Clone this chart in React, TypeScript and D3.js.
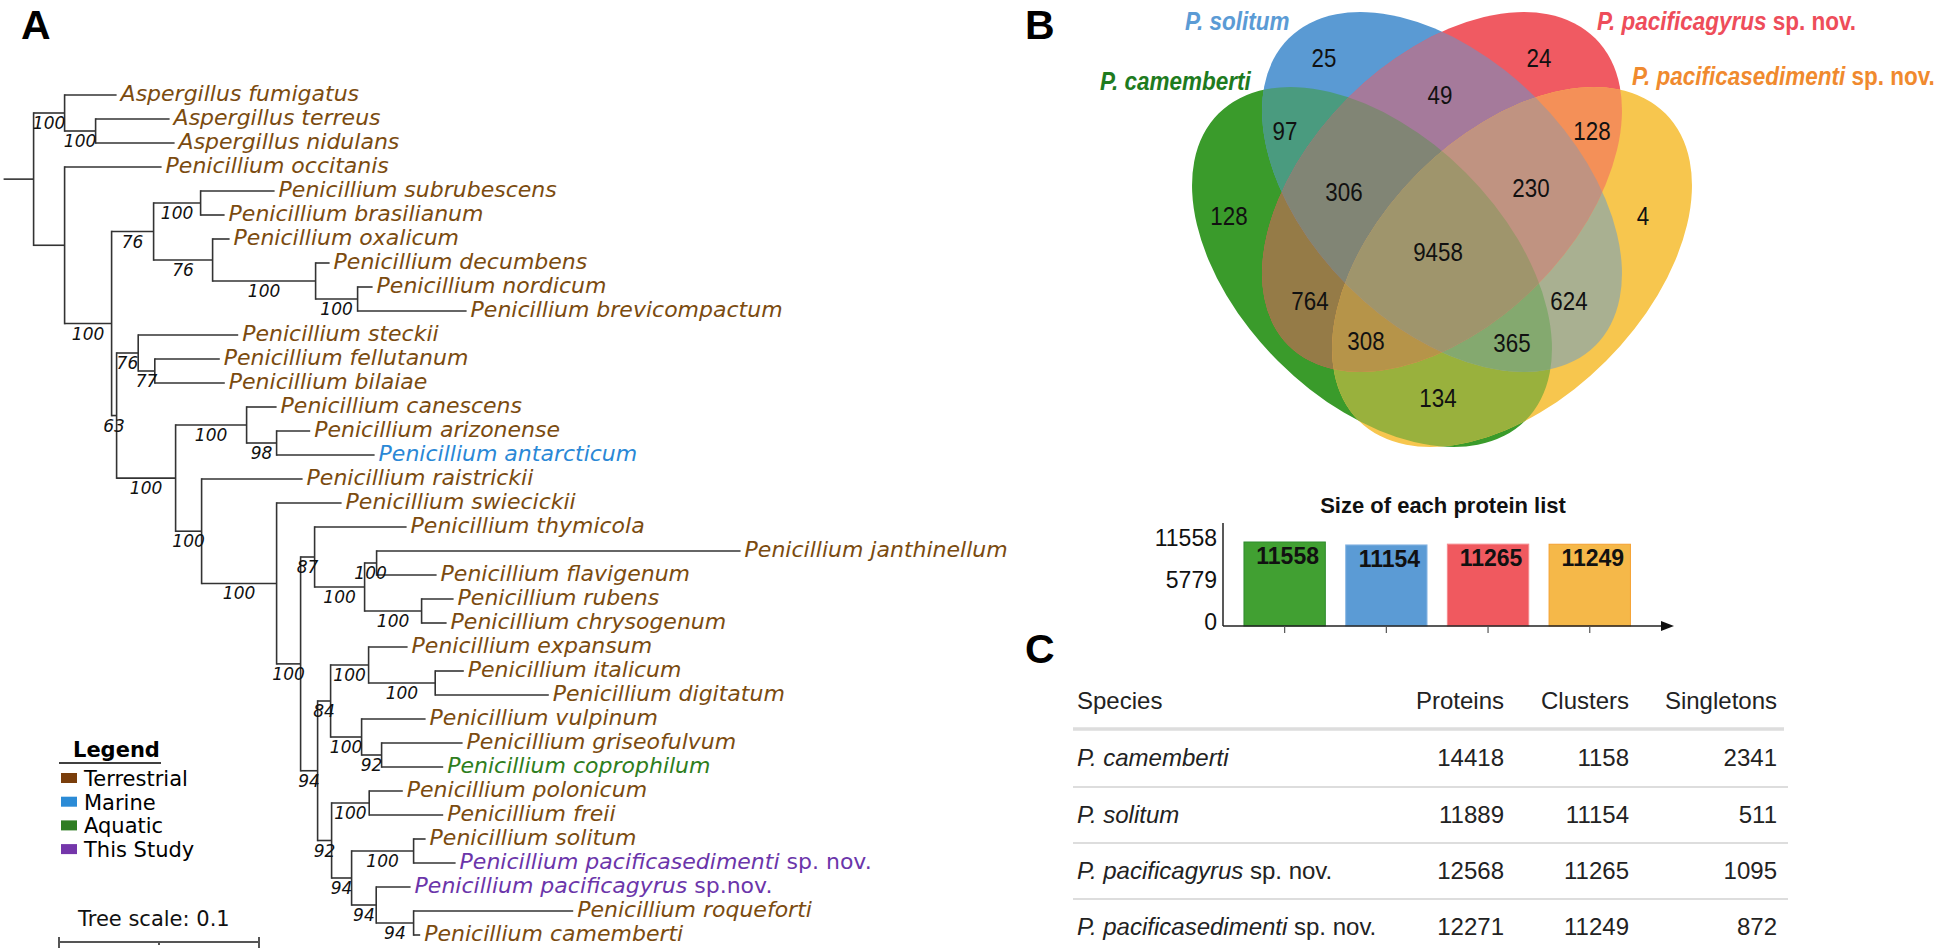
import React from "react";
import * as d3 from "d3";

// ---------------- DATA ----------------
// Phylogeny (Newick, branch lengths in tree units, bootstrap as internal node names)
const TREE_NEWICK =
  "(" +
  "(Aspergillus_fumigatus:0.026,(Aspergillus_terreus:0.037,Aspergillus_nidulans:0.0395)100:0.0155)100:0.0155," +
  "(Penicillium_occitanis:0.0485," +
  "(" +
  "((Penicillium_subrubescens:0.037,Penicillium_brasilianum:0.012)100:0.0235," +
  "(Penicillium_oxalicum:0.0085,(Penicillium_decumbens:0.007,(Penicillium_nordicum:0.0075,Penicillium_brevicompactum:0.0545)100:0.021)100:0.0515)76:0.0295)76:0.021," +
  "(" +
  "(Penicillium_steckii:0.05,(Penicillium_fellutanum:0.0325,Penicillium_bilaiae:0.035)77:0.0083)76:0.0108," +
  "(" +
  "(Penicillium_canescens:0.015,(Penicillium_arizonense:0.0168,Penicillium_antarcticum:0.049)98:0.015)100:0.0355," +
  "(Penicillium_raistrickii:0.0505," +
  "(Penicillium_swiecickii:0.0325," +
  "(" +
  "(Penicillium_thymicola:0.046,((Penicillium_janthinellum:0.182,Penicillium_flavigenum:0.03)100:0.006,(Penicillium_rubens:0.016,Penicillium_chrysogenum:0.0125)100:0.0285)100:0.025)87:0.007," +
  "(" +
  "((Penicillium_expansum:0.0195,(Penicillium_italicum:0.0143,Penicillium_digitatum:0.0568)100:0.0333)100:0.019," +
  "(Penicillium_vulpinum:0.032,(Penicillium_griseofulvum:0.0405,Penicillium_coprophilum:0.0308)92:0.01)100:0.0155)84:0.0065," +
  "((Penicillium_polonicum:0.0168,Penicillium_freii:0.037)100:0.0188," +
  "((Penicillium_solitum:0.006,Penicillium_pacificasedimenti_sp._nov.:0.021)100:0.031," +
  "(Penicillium_pacificagyrus_sp.nov.:0.0172,(Penicillium_roqueforti:0.0798,Penicillium_camemberti:0.0033)94:0.0187)94:0.0123)94:0.01)92:0.007" +
  ")94:0.0085" +
  ")100:0.012" +
  ")100:0.0375" +
  ")100:0.013" +
  ")100:0.0295" +
  ")63:0.0025" +
  ")100:0.0235" +
  "):0.0155" +
  "):0.015;";

const marineLeaves = ["Penicillium antarcticum"];
const aquaticLeaves = ["Penicillium coprophilum"];
const studyLeaves = ["Penicillium pacificasedimenti sp. nov.", "Penicillium pacificagyrus sp.nov."];

const legendLabels = ["Terrestrial", "Marine", "Aquatic", "This Study"];
const treeScaleValue = 0.1;

// Venn
const vennSetNames = ["P. camemberti", "P. solitum", "P. pacificagyrus", "P. pacificasedimenti"];
const vennRegionKeys = ["A", "B", "C", "D", "AB", "BC", "CD", "AD", "AC", "BD", "ABC", "BCD", "ACD", "ABD", "ABCD"];
const vennRegionCounts = [128, 25, 24, 4, 97, 49, 128, 134, 764, 624, 306, 230, 308, 365, 9458];

// Bar chart
const barNames = ["P. camemberti", "P. solitum", "P. pacificagyrus", "P. pacificasedimenti"];
const barValues = [11558, 11154, 11265, 11249];
const barTicks = [0, 5779, 11558];

// Table
const tableHeaders = ["Species", "Proteins", "Clusters", "Singletons"];
const tableSpecies = ["P. camemberti", "P. solitum", "P. pacificagyrus", "P. pacificasedimenti"];
const tableSpeciesSuffix = ["", "", " sp. nov.", " sp. nov."];
const tableProteins = [14418, 11889, 12568, 12271];
const tableClusters = [1158, 11154, 11265, 11249];
const tableSingletons = [2341, 511, 1095, 872];

// ---------------- STYLES / LAYOUT ----------------
const COL = {
  terrestrial: "#7B4B0F",
  marine: "#2A88D6",
  aquatic: "#2E7E1C",
  study: "#6B35AA",
};
const legendColors = ["#7A3E0B", "#2B8BD6", "#2F7D22", "#7436AA"];
const vennColors = ["#3A9B2B", "#5A9AD3", "#F05A62", "#F7C64E"];
const vennLabelColors = ["#1E7B1E", "#5B9BD5", "#EE4D5A", "#F08A2E"];
const barColors = ["#41A032", "#5B9BD5", "#F0595F", "#F5B849"];
const barStroke = ["#2E8B2E", "#8BB8E3", "#F58A8E", "#F5A030"];

const vennShapes = [
  { cx: 1372, cy: 267, rot: 45 },
  { cx: 1442, cy: 192, rot: 45 },
  { cx: 1442, cy: 192, rot: -45 },
  { cx: 1512, cy: 267, rot: -45 },
];
const VRX = 217;
const VRY = 133;
const vennLabelPos: Record<string, [number, number]> = {
  A: [1229, 216], B: [1324, 58], C: [1539, 58], D: [1643, 216],
  AB: [1285, 131], BC: [1440, 95], CD: [1592, 131], AD: [1438, 398],
  AC: [1310, 301], BD: [1569, 301], ABC: [1344, 192], BCD: [1531, 188],
  ACD: [1366, 341], ABD: [1512, 343], ABCD: [1438, 252],
};

type TNode = { name: string; length: number; children: TNode[] };
function parseNewick(s: string): TNode {
  let i = 0;
  function parseNode(): TNode {
    const node: TNode = { name: "", length: 0, children: [] };
    if (s[i] === "(") {
      i++;
      node.children.push(parseNode());
      while (s[i] === ",") {
        i++;
        node.children.push(parseNode());
      }
      i++;
    }
    let name = "";
    while (i < s.length && !",():;".includes(s[i])) name += s[i++];
    node.name = name.replace(/_/g, " ");
    if (s[i] === ":") {
      i++;
      let num = "";
      while (i < s.length && !",();".includes(s[i])) num += s[i++];
      node.length = parseFloat(num);
    }
    return node;
  }
  return parseNode();
}

const TREE_FONT = "'DejaVu Sans', Verdana, sans-serif";
const SANS = "'Liberation Sans', Arial, Helvetica, sans-serif";

function leafColor(name: string) {
  if (marineLeaves.includes(name)) return COL.marine;
  if (aquaticLeaves.includes(name)) return COL.aquatic;
  if (studyLeaves.includes(name)) return COL.study;
  return COL.terrestrial;
}

function LeafLabel({ name, x, y }: { name: string; x: number; y: number }) {
  const m = name.match(/^(.*?)( sp\. ?nov\.)$/);
  const fill = leafColor(name);
  return (
    <text x={x} y={y} fontFamily={TREE_FONT} fontSize={22} fill={fill}>
      {m ? (
        <>
          <tspan fontStyle="italic">{m[1]}</tspan>
          <tspan fontStyle="normal">{m[2]}</tspan>
        </>
      ) : (
        <tspan fontStyle="italic">{name}</tspan>
      )}
    </text>
  );
}

function Tree() {
  const root = d3.hierarchy(parseNewick(TREE_NEWICK), (d: TNode) => (d.children.length ? d.children : null));
  const x0 = 3.6;
  const xScale = d3.scaleLinear().domain([0, treeScaleValue]).range([x0, x0 + 200]);
  const leaves = root.leaves();
  const yScale = d3.scaleLinear().domain([0, leaves.length - 1]).range([95, 935]);
  const pos = new Map<any, { x: number; y: number; cum: number }>();
  root.eachBefore((n: any) => {
    const cum = (n.parent ? pos.get(n.parent)!.cum : 0) + n.data.length;
    pos.set(n, { x: xScale(cum), y: 0, cum });
  });
  leaves.forEach((l: any, i: number) => (pos.get(l)!.y = yScale(i)));
  root.eachAfter((n: any) => {
    if (n.children) {
      const c = n.children;
      pos.get(n)!.y = (pos.get(c[0])!.y + pos.get(c[c.length - 1])!.y) / 2;
    }
  });
  const nodes = root.descendants();
  const lineColor = "#333";
  return (
    <g>
      {nodes.map((n: any, i: number) => {
        const p = pos.get(n)!;
        const px = n.parent ? pos.get(n.parent)!.x : xScale(0);
        return <line key={"h" + i} x1={px} x2={p.x} y1={p.y} y2={p.y} stroke={lineColor} strokeWidth={1.6} />;
      })}
      {nodes
        .filter((n: any) => n.children)
        .map((n: any, i: number) => {
          const p = pos.get(n)!;
          const c = n.children;
          return (
            <line
              key={"v" + i}
              x1={p.x}
              x2={p.x}
              y1={pos.get(c[0])!.y - 0.8}
              y2={pos.get(c[c.length - 1])!.y + 0.8}
              stroke={lineColor}
              strokeWidth={1.6}
            />
          );
        })}
      {nodes
        .filter((n: any) => n.children && n.parent && /^\d+$/.test(n.data.name))
        .map((n: any, i: number) => {
          const p = pos.get(n)!;
          const px = pos.get(n.parent)!.x;
          return (
            <text
              key={"b" + i}
              x={(px + p.x) / 2}
              y={p.y + 16}
              textAnchor="middle"
              fontFamily={TREE_FONT}
              fontStyle="italic"
              fontSize={17}
              fill="#111"
            >
              {n.data.name}
            </text>
          );
        })}
      {leaves.map((l: any, i: number) => {
        const p = pos.get(l)!;
        return <LeafLabel key={"l" + i} name={l.data.name} x={p.x + 4} y={p.y + 6} />;
      })}
      {/* Legend */}
      <text x={73} y={757} fontFamily={TREE_FONT} fontWeight="bold" fontSize={21} fill="#000">
        Legend
      </text>
      <line x1={59} x2={161} y1={763} y2={763} stroke="#000" strokeWidth={1.6} />
      {legendLabels.map((lab, i) => {
        const y = 778 + i * 23.7;
        return (
          <g key={lab}>
            <rect x={61} y={y - 5} width={16} height={10} fill={legendColors[i]} />
            <text x={84} y={y + 8} fontFamily={TREE_FONT} fontSize={21} fill="#000">
              {lab}
            </text>
          </g>
        );
      })}
      {/* Tree scale */}
      <text x={78} y={926} fontFamily={TREE_FONT} fontSize={21} fill="#111">
        Tree scale: {treeScaleValue}
      </text>
      {(() => {
        const len = xScale(treeScaleValue) - xScale(0);
        const bx = 59;
        return (
          <g stroke="#555" strokeWidth={2}>
            <line x1={bx} x2={bx + len} y1={942} y2={942} />
            <line x1={bx} x2={bx} y1={937} y2={948} />
            <line x1={bx + len} x2={bx + len} y1={937} y2={948} />
            <line x1={bx + len / 2} x2={bx + len / 2} y1={942} y2={945} />
          </g>
        );
      })()}
    </g>
  );
}

function ellipseEl(i: number, fill?: string) {
  const s = vennShapes[i];
  return (
    <ellipse
      cx={s.cx}
      cy={s.cy}
      rx={VRX}
      ry={VRY}
      transform={`rotate(${s.rot} ${s.cx} ${s.cy})`}
      fill={fill || "#000"}
    />
  );
}

function Venn() {
  const subsets: number[][] = [];
  for (let m = 1; m < 16; m++) {
    const s: number[] = [];
    for (let k = 0; k < 4; k++) if (m & (1 << k)) s.push(k);
    subsets.push(s);
  }
  subsets.sort((a, b) => a.length - b.length);
  const avg = (s: number[]) => {
    const cs = s.map((k) => d3.rgb(vennColors[k]));
    const r = d3.mean(cs, (c) => c.r)!;
    const g = d3.mean(cs, (c) => c.g)!;
    const b = d3.mean(cs, (c) => c.b)!;
    return d3.rgb(r, g, b).formatHex();
  };
  const renderSubset = (s: number[], key: number) => {
    let el: any = ellipseEl(s[0], avg(s));
    for (let j = 1; j < s.length; j++) {
      el = <g clipPath={`url(#vclip${s[j]})`}>{el}</g>;
    }
    return <g key={key}>{el}</g>;
  };
  return (
    <g>
      <defs>
        {[0, 1, 2, 3].map((i) => (
          <clipPath key={i} id={`vclip${i}`}>
            {ellipseEl(i)}
          </clipPath>
        ))}
      </defs>
      {subsets.map((s, i) => renderSubset(s, i))}
      {vennRegionKeys.map((k, i) => {
        const [x, y] = vennLabelPos[k];
        return (
          <text
            key={k}
            transform={`translate(${x},${y + 9}) scale(0.86,1)`}
            textAnchor="middle"
            fontFamily={SANS}
            fontSize={26}
            fill="#111"
          >
            {vennRegionCounts[i]}
          </text>
        );
      })}
      {/* set labels */}
      {[
        { x: 1100, y: 90, i: 0 },
        { x: 1185, y: 30, i: 1 },
        { x: 1597, y: 30, i: 2 },
        { x: 1632, y: 85, i: 3 },
      ].map(({ x, y, i }) => (
        <text
          key={i}
          transform={`translate(${x},${y}) scale(0.9,1)`}
          fontFamily={SANS}
          fontWeight="bold"
          fontSize={25}
          fill={vennLabelColors[i]}
        >
          <tspan fontStyle="italic">{vennSetNames[i]}</tspan>
          {i >= 2 ? <tspan fontStyle="normal"> sp. nov.</tspan> : null}
        </text>
      ))}
    </g>
  );
}

function Bars() {
  const x = d3.scaleBand().domain(barNames).range([1233.8, 1640.6]).paddingInner(0.2).paddingOuter(0.1);
  const y = d3.scaleLinear().domain([0, barTicks[barTicks.length - 1]]).range([626, 542]);
  const axisX = 1223;
  return (
    <g>
      <text x={1443} y={513} textAnchor="middle" fontFamily={SANS} fontWeight="bold" fontSize={22} fill="#111">
        Size of each protein list
      </text>
      {barNames.map((n, i) => (
        <rect
          key={n}
          x={x(n)!}
          y={y(barValues[i])}
          width={x.bandwidth()}
          height={y(0) - y(barValues[i])}
          fill={barColors[i]}
          stroke={barStroke[i]}
          strokeWidth={1}
        />
      ))}
      {barNames.map((n, i) => (
        <text
          key={"v" + n}
          x={x(n)! + x.bandwidth() / 2 + 3}
          y={y(barValues[i]) + 22}
          textAnchor="middle"
          fontFamily={SANS}
          fontWeight="bold"
          fontSize={23}
          fill="#111"
        >
          {barValues[i]}
        </text>
      ))}
      <line x1={axisX} x2={axisX} y1={523} y2={626} stroke="#222" strokeWidth={1.5} />
      <line x1={axisX} x2={1664} y1={626} y2={626} stroke="#222" strokeWidth={1.5} />
      <path d="M1661,621 L1674,626 L1661,631 Z" fill="#111" />
      {barNames.map((n) => (
        <line
          key={"t" + n}
          x1={x(n)! + x.bandwidth() / 2}
          x2={x(n)! + x.bandwidth() / 2}
          y1={626}
          y2={633}
          stroke="#555"
          strokeWidth={1.2}
        />
      ))}
      {barTicks.map((t) => (
        <text key={t} x={1217} y={y(t) + 4} textAnchor="end" fontFamily={SANS} fontSize={23} fill="#111">
          {t}
        </text>
      ))}
    </g>
  );
}

function Table() {
  const rightX = [0, 1504, 1629, 1777];
  const rowY = [766, 823, 879, 935];
  const cols = [tableProteins, tableClusters, tableSingletons];
  return (
    <g fontFamily={SANS} fontSize={24} fill="#222">
      <text x={1077} y={709}>{tableHeaders[0]}</text>
      {tableHeaders.slice(1).map((h, i) => (
        <text key={h} x={rightX[i + 1]} y={709} textAnchor="end">
          {h}
        </text>
      ))}
      <line x1={1073} x2={1784} y1={729} y2={729} stroke="#DDDDDD" strokeWidth={3.5} />
      {[787, 843, 899].map((ly) => (
        <line key={ly} x1={1073} x2={1788} y1={ly} y2={ly} stroke="#DDDDDD" strokeWidth={2} />
      ))}
      {tableSpecies.map((sp, r) => (
        <g key={sp}>
          <text x={1077} y={rowY[r]}>
            <tspan fontStyle="italic">{sp}</tspan>
            {tableSpeciesSuffix[r] ? <tspan>{tableSpeciesSuffix[r]}</tspan> : null}
          </text>
          {cols.map((c, j) => (
            <text key={j} x={rightX[j + 1]} y={rowY[r]} textAnchor="end">
              {c[r]}
            </text>
          ))}
        </g>
      ))}
    </g>
  );
}

export default function App() {
  return (
    <svg
      width={1943}
      height={952}
      viewBox="0 0 1943 952"
      style={{ position: "absolute", left: 0, top: 0, background: "#fff" }}
    >
      <rect x={0} y={0} width={1943} height={952} fill="#fff" />
      <g fontFamily={SANS} fontWeight="bold" fontSize={41} fill="#000">
        <text x={21} y={39}>A</text>
        <text x={1025} y={39}>B</text>
        <text x={1025} y={663}>C</text>
      </g>
      <Tree />
      <Venn />
      <Bars />
      <Table />
    </svg>
  );
}
